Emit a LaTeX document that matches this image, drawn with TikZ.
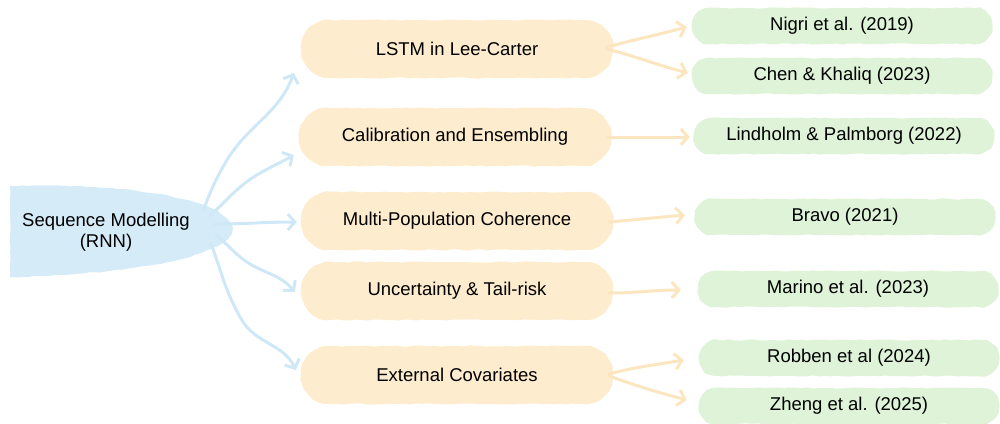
\documentclass[tikz,border=0pt]{standalone}
\usepackage{fontspec}
\setmainfont{Liberation Sans}
\usetikzlibrary{arrows.meta,decorations.pathmorphing,calc,shapes.misc}

\definecolor{rootfill}{HTML}{D5EBF8}
\definecolor{midfill}{HTML}{FDECCD}
\definecolor{leaffill}{HTML}{DEF3D7}
\definecolor{bluelink}{HTML}{CFE8F7}
\definecolor{orangelink}{HTML}{FCE6C0}

\tikzset{
  rough/.style={decorate,decoration={random steps,segment length=6pt,amplitude=0.6pt}},
  midbox/.style={rounded rectangle,fill=midfill,minimum width=312pt,
    minimum height=58pt,inner sep=0pt,font=\fontsize{18.5}{22}\selectfont,rough},
  leafbox/.style={rounded rectangle,fill=leaffill,minimum width=300pt,
    minimum height=36pt,inner sep=0pt,font=\fontsize{18.5}{22}\selectfont,rough},
  rootlabel/.style={rectangle,minimum width=222pt,minimum height=92pt,inner sep=0pt,
    align=center,font=\fontsize{18.5}{21.5}\selectfont},
  bluearrow/.style={draw=bluelink,line width=3pt,line cap=round,
    -{Straight Barb[length=7pt,width=16pt,line width=3pt]}},
  orangearrow/.style={draw=orangelink,line width=3pt,line cap=round,
    -{Straight Barb[length=7pt,width=16pt,line width=3pt]}},
}

\begin{document}
\begin{tikzpicture}[x=1pt,y=-1pt]
  \useasboundingbox (0,0) rectangle (1000,423);

  % root: flat left side, pointed bulge to the right
  \fill[rootfill,rough] (10,186) .. controls (130,182) and (228,200) .. (232,228)
     .. controls (230,256) and (140,274) .. (10,277) -- cycle;
  \node[rootlabel] (root) at (106,232) {Sequence Modelling\\(RNN)};

  % second level
  \node[midbox] (m1) at (457,49)  {LSTM in Lee-Carter};
  \node[midbox] (m2) at (455,137) {Calibration and Ensembling};
  \node[midbox] (m3) at (457,221) {Multi-Population Coherence};
  \node[midbox] (m4) at (457,291) {Uncertainty \& Tail-risk};
  \node[midbox] (m5) at (457,375) {External Covariates};

  % references
  \node[leafbox] (l1) at (842,26)  {Nigri et al. (2019)};
  \node[leafbox] (l2) at (842,76)  {Chen \& Khaliq (2023)};
  \node[leafbox] (l3) at (844,136) {Lindholm \& Palmborg (2022)};
  \node[leafbox] (l4) at (845,217) {Bravo (2021)};
  \node[leafbox] (l5) at (848,289) {Marino et al. (2023)};
  \node[leafbox] (l6) at (849,358) {Robben et al (2024)};
  \node[leafbox] (l7) at (849,406) {Zheng et al. (2025)};

  % links from the root (slightly wavy, hand-drawn)
  \draw[bluearrow] ($(root.east)+(-14,-21)$) to[out=70,in=-120] ++(22,-48)
     to[out=60,in=-110] ($(m1.west)+(-7,24)$);
  \draw[bluearrow] ($(root.east)+(-7,-17)$) to[out=40,in=-140] ++(30,-28)
     to[out=40,in=-150] ($(m2.west)+(-5,18)$);
  \draw[bluearrow] ($(root.east)+(-2,-8)$) to[out=0,in=180] ($(m3.west)+(-4,1)$);
  \draw[bluearrow] ($(root.east)+(-1,3)$) to[out=-40,in=140] ++(24,22)
     to[out=-40,in=130] ($(m4.west)+(-6,1)$);
  \draw[bluearrow] ($(root.east)+(-6,12)$) to[out=-70,in=120] ++(30,75)
     to[out=-60,in=115] ($(m5.west)+(-5,-5)$);

  % links to the references
  \draw[orangearrow] ($(m1.east)+(-6,-2)$) to[out=15,in=195] ($(l1.west)+(-5,1)$);
  \draw[orangearrow] ($(m1.east)+(-6,0)$) to[out=-15,in=165] ($(l2.west)+(-4,-3)$);
  \draw[orangearrow] ($(m2.east)+(-4,0)$) to[out=0,in=180] ($(l3.west)+(-4,1)$);
  \draw[orangearrow] ($(m3.east)+(-4,1)$) to[out=5,in=185] ($(l4.west)+(-10,-2)$);
  \draw[orangearrow] ($(m4.east)+(-4,2)$) to[out=0,in=180] ($(l5.west)+(-17,1)$);
  \draw[orangearrow] ($(m5.east)+(-4,-1)$) to[out=15,in=190] ($(l6.west)+(-15,2)$);
  \draw[orangearrow] ($(m5.east)+(-4,1)$) to[out=-20,in=165] ($(l7.west)+(-12,-6)$);
\end{tikzpicture}
\end{document}
